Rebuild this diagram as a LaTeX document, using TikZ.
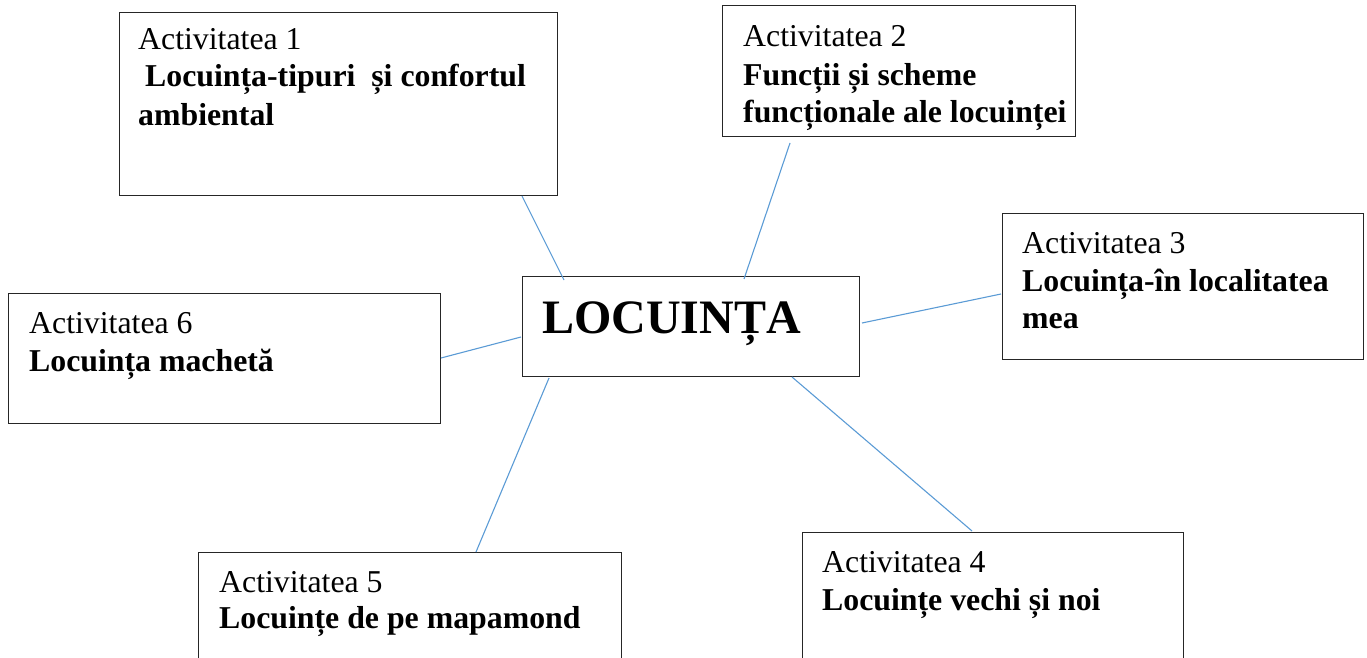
\documentclass[tikz,border=0pt]{standalone}
\usepackage{fontspec}
\setmainfont{Liberation Serif}
\definecolor{conn}{HTML}{5B9BD5}
\definecolor{edge}{HTML}{262626}
\tikzset{
  box/.style={draw=edge, line width=1.4pt, rectangle, inner sep=0pt, anchor=north west},
  lbl/.style={anchor=base west, inner sep=0pt, font=\fontsize{31.8}{36}\selectfont},
  bld/.style={anchor=base west, inner sep=0pt, font=\fontsize{31.8}{36}\selectfont\bfseries},
  link/.style={draw=conn, line width=1.1pt},
}
\begin{document}
\begin{tikzpicture}[x=1pt,y=-1pt]
\useasboundingbox (0,0) rectangle (1367,658);
\clip (0,0) rectangle (1367,658);
% boxes
\node[box, minimum width=438pt, minimum height=183pt] (b1) at (119,12) {};
\node[box, minimum width=353pt, minimum height=131pt] (b2) at (722,5) {};
\node[box, minimum width=361pt, minimum height=146pt] (b3) at (1002,213) {};
\node[box, minimum width=337pt, minimum height=100pt] (c) at (522,276) {};
\node[box, minimum width=432pt, minimum height=130pt] (b6) at (8,293) {};
\node[box, minimum width=423pt, minimum height=120pt] (b5) at (198,552) {};
\node[box, minimum width=381pt, minimum height=140pt] (b4) at (802,532) {};
% texts
\node[lbl] (t1a) at (138,50) {Activitatea 1};
\node[bld] (t1b) at (145,87) {Locuința-tipuri\ \ și confortul};
\node[bld] (t1c) at (138,125) {ambiental};
\node[lbl] (t2a) at (743,47) {Activitatea 2};
\node[bld] (t2b) at (743,86) {Funcții și scheme};
\node[bld] (t2c) at (743,123) {funcționale ale locuinței};
\node[lbl] (t3a) at (1022,253) {Activitatea 3};
\node[bld] (t3b) at (1022,291) {Locuința-în localitatea};
\node[bld] (t3c) at (1022,328) {mea};
\node[anchor=base west, inner sep=0pt, font=\fontsize{48}{56}\selectfont\bfseries] (ct) at (542,333) {LOCUINȚA};
\node[lbl] (t6a) at (29,333) {Activitatea 6};
\node[bld] (t6b) at (29,371) {Locuința machetă};
\node[lbl] (t5a) at (219,592) {Activitatea 5};
\node[bld] (t5b) at (219,628) {Locuințe de pe mapamond};
\node[lbl] (t4a) at (822,572) {Activitatea 4};
\node[bld] (t4b) at (822,610) {Locuințe vechi și noi};
% connector end points
\coordinate (p1) at (522,196); \coordinate (q1) at (564,280);
\coordinate (p2) at (790,143); \coordinate (q2) at (744,279);
\coordinate (p3) at (1001,294); \coordinate (q3) at (862,323);
\coordinate (p6) at (441,358); \coordinate (q6) at (521,337);
\coordinate (p5) at (476,552); \coordinate (q5) at (549,378);
\coordinate (p4) at (972,531); \coordinate (q4) at (792,377);
\draw[link] (p1) -- (q1);
\draw[link] (p2) -- (q2);
\draw[link] (p3) -- (q3);
\draw[link] (p6) -- (q6);
\draw[link] (p5) -- (q5);
\draw[link] (p4) -- (q4);
\end{tikzpicture}
\end{document}
